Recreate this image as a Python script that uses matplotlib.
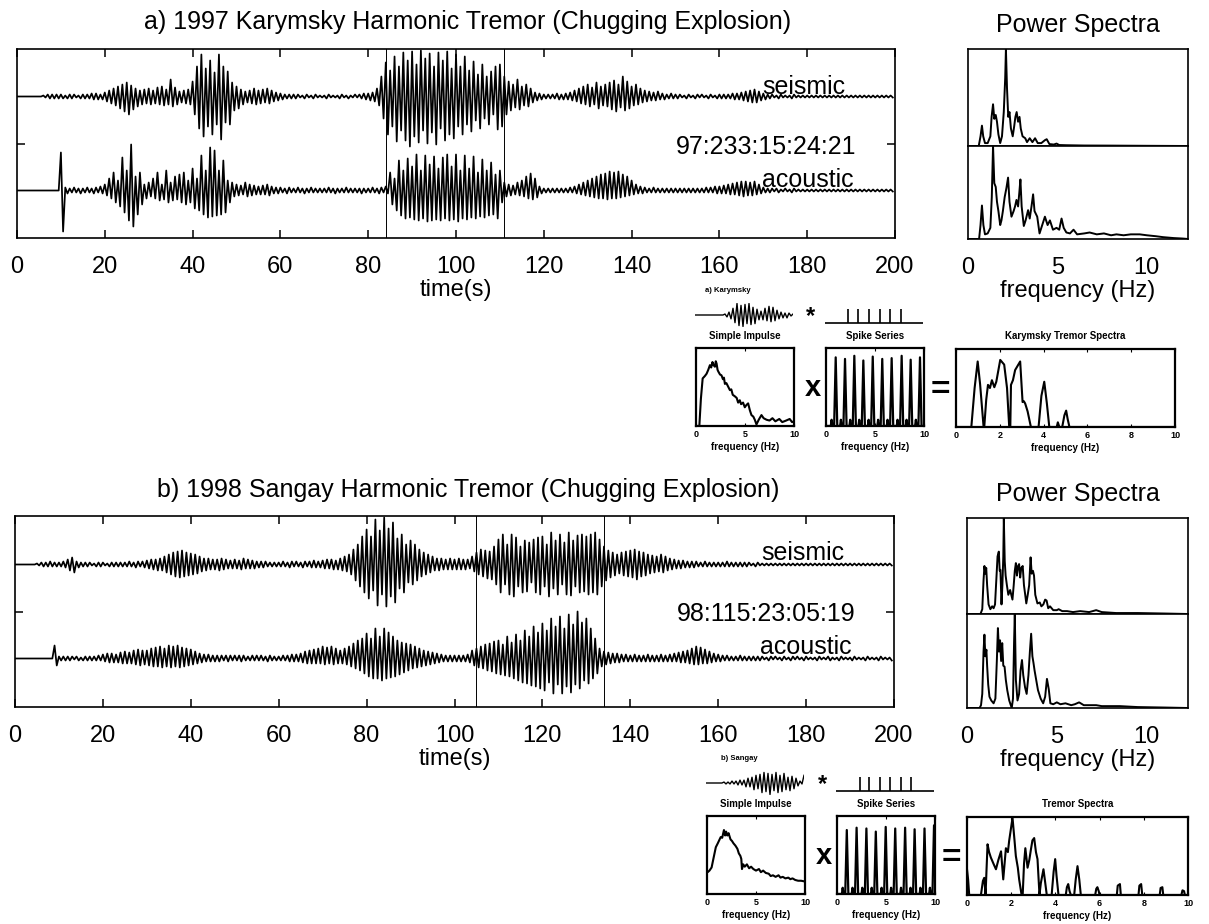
import matplotlib.pyplot as plt
import numpy as np

plt.rcParams['font.family'] = ['Liberation Sans', 'DejaVu Sans']

W, H = 1209, 924

# ---------------------------------------------------------------- data
time_ticks = [0, 20, 40, 60, 80, 100, 120, 140, 160, 180, 200]

# seismograms: positive / negative peak of each second (counts), t = 0..199 s
kar_seis_hi = [0, 0, 0, 0, 0, 0, 1, 2, 2, 2,  2, 1, 2, 2, 1, 2, 2, 3, 3, 2,
               4, 6, 8, 10, 12, 14, 11, 8, 6, 7,  8, 6, 9, 10, 7, 17, 9, 5, 6, 7,
               15, 30, 42, 28, 36, 24, 42, 30, 25, 14,  10, 7, 5, 6, 8, 6, 7, 8, 6, 4,
               3, 2, 2, 2, 2, 1, 2, 1, 2, 1,  1, 2, 1, 1, 2, 1, 1, 2, 2, 3,
               3, 4, 8, 20, 34, 26, 40, 30, 44, 36,  45, 32, 46, 38, 43, 30, 44, 36, 45, 28,
               42, 30, 40, 26, 35, 22, 32, 20, 25, 30,  32, 20, 15, 12, 17, 10, 12, 8, 4, 3,
               2, 2, 2, 3, 2, 3, 4, 6, 8, 10,  12, 9, 14, 10, 12, 14, 16, 12, 20, 15,
               10, 12, 8, 6, 5, 4, 5, 3, 2, 3,  2, 2, 1, 2, 1, 2, 2, 1, 2, 1,
               2, 2, 2, 3, 3, 4, 5, 6, 7, 5,  3, 2, 2, 1, 2, 1, 1, 2, 1, 1,
               1, 1, 1, 1, 1, 1, 1, 1, 1, 1,  1, 1, 1, 1, 1, 1, 1, 1, 1, 1]
kar_seis_lo = [0, 0, 0, 0, 0, 0, 1, 2, 2, 2,  2, 2, 2, 1, 2, 2, 2, 3, 3, 3,
               5, 7, 9, 12, 15, 18, 13, 10, 8, 7,  8, 7, 8, 9, 8, 10, 8, 6, 7, 8,
               18, 32, 40, 30, 38, 28, 43, 26, 28, 14,  12, 8, 6, 7, 8, 7, 6, 7, 5, 4,
               3, 2, 2, 2, 1, 2, 1, 2, 1, 1,  2, 1, 1, 2, 1, 2, 1, 1, 2, 3,
               4, 5, 9, 22, 38, 30, 45, 34, 44, 50,  40, 46, 34, 47, 36, 48, 32, 44, 38, 42,
               30, 38, 28, 35, 24, 32, 22, 28, 18, 33,  30, 18, 14, 11, 13, 9, 10, 6, 4, 3,
               2, 2, 2, 3, 3, 3, 4, 5, 7, 8,  10, 8, 12, 9, 10, 13, 15, 11, 14, 12,
               9, 8, 6, 5, 4, 4, 3, 3, 2, 2,  2, 1, 2, 1, 2, 1, 1, 2, 1, 2,
               2, 2, 2, 3, 3, 4, 5, 6, 6, 4,  3, 2, 1, 2, 1, 1, 2, 1, 1, 1,
               1, 1, 1, 1, 1, 1, 1, 1, 1, 1,  1, 1, 1, 1, 1, 1, 1, 1, 1, 1]
kar_acou_hi = [0, 0, 0, 0, 0, 0, 0, 0, 0, 0,  38, 3, 2, 3, 2, 2, 3, 2, 3, 4,
               6, 12, 18, 10, 33, 20, 46, 14, 18, 6,  8, 12, 18, 6, 20, 8, 14, 16, 18, 10,
               22, 12, 35, 20, 43, 40, 20, 30, 10, 8,  6, 5, 8, 6, 5, 4, 5, 6, 4, 3,
               3, 2, 3, 2, 3, 2, 2, 3, 2, 2,  2, 3, 2, 2, 2, 3, 2, 2, 2, 2,
               2, 3, 2, 3, 4, 18, 12, 30, 20, 32,  24, 36, 20, 35, 26, 34, 22, 33, 36, 24,
               36, 20, 35, 22, 34, 18, 31, 20, 28, 16,  20, 8, 6, 5, 8, 10, 14, 17, 12, 4,
               2, 2, 2, 2, 2, 2, 3, 4, 6, 8,  10, 12, 14, 16, 17, 19, 18, 19, 16, 14,
               10, 6, 4, 3, 2, 3, 2, 2, 2, 2,  2, 2, 2, 2, 2, 2, 2, 3, 3, 4,
               4, 5, 6, 7, 8, 9, 9, 8, 9, 6,  3, 2, 2, 2, 1, 2, 1, 2, 1, 1,
               1, 1, 1, 1, 1, 1, 1, 1, 1, 1,  1, 1, 1, 1, 1, 1, 1, 1, 1, 1]
kar_acou_lo = [0, 0, 0, 0, 0, 0, 0, 0, 0, 0,  41, 3, 2, 2, 3, 2, 2, 3, 2, 3,
               5, 8, 12, 16, 22, 30, 36, 24, 14, 8,  6, 8, 10, 9, 12, 10, 9, 12, 14, 12,
               18, 20, 24, 27, 26, 25, 24, 22, 12, 6,  5, 4, 6, 5, 4, 4, 4, 5, 3, 3,
               2, 3, 2, 2, 2, 3, 2, 2, 2, 2,  2, 2, 3, 2, 2, 2, 2, 2, 3, 2,
               2, 2, 3, 2, 3, 14, 20, 25, 28, 27,  29, 30, 28, 31, 30, 29, 30, 28, 30, 29,
               31, 28, 29, 27, 28, 26, 27, 25, 24, 28,  12, 6, 5, 4, 5, 6, 8, 9, 7, 3,
               2, 2, 2, 2, 2, 2, 2, 3, 4, 5,  6, 7, 8, 8, 9, 8, 8, 7, 6, 5,
               4, 3, 3, 2, 2, 2, 2, 2, 2, 2,  2, 2, 2, 2, 2, 2, 2, 2, 2, 3,
               3, 3, 4, 4, 5, 6, 5, 5, 4, 3,  2, 2, 1, 2, 1, 1, 2, 1, 1, 1,
               1, 1, 1, 1, 1, 1, 1, 1, 1, 1,  1, 1, 1, 1, 1, 1, 1, 1, 1, 1]

san_seis_hi = [0, 0, 0, 0, 0, 1, 2, 2, 3, 2,  2, 3, 5, 7, 3, 2, 2, 2, 1, 2,
               2, 1, 2, 2, 2, 2, 3, 2, 3, 3,  4, 5, 5, 6, 8, 10, 12, 13, 14, 12,
               11, 10, 8, 6, 6, 5, 5, 6, 5, 4,  5, 4, 6, 5, 4, 3, 3, 3, 2, 2,
               2, 3, 2, 3, 3, 2, 3, 3, 4, 3,  4, 5, 5, 4, 6, 8, 10, 15, 20, 28,
               35, 28, 45, 34, 47, 36, 42, 26, 30, 20,  24, 20, 15, 12, 10, 8, 6, 6, 5, 6,
               5, 6, 5, 5, 8, 12, 15, 14, 13, 18,  25, 30, 20, 30, 27, 18, 24, 22, 25, 27,
               28, 20, 32, 24, 30, 22, 32, 24, 29, 30,  28, 30, 32, 25, 18, 14, 12, 10, 12, 13,
               14, 15, 13, 12, 10, 9, 8, 10, 8, 6,  5, 4, 4, 3, 3, 3, 2, 3, 2, 2,
               2, 2, 3, 2, 2, 2, 2, 2, 1, 2,  1, 1, 1, 1, 1, 1, 1, 1, 1, 1,
               1, 1, 1, 1, 1, 1, 1, 1, 1, 1,  1, 1, 1, 1, 1, 1, 1, 1, 1, 1]
san_seis_lo = [0, 0, 0, 0, 0, 1, 2, 2, 2, 2,  2, 3, 6, 8, 3, 2, 2, 1, 2, 2,
               1, 2, 2, 2, 2, 2, 2, 3, 2, 3,  4, 5, 6, 6, 8, 10, 12, 13, 12, 11,
               10, 9, 7, 6, 5, 5, 6, 5, 4, 4,  4, 5, 4, 4, 4, 3, 3, 2, 2, 2,
               2, 2, 3, 2, 2, 3, 2, 3, 3, 3,  4, 4, 5, 5, 6, 7, 10, 16, 22, 28,
               34, 26, 41, 30, 42, 32, 38, 24, 28, 18,  20, 16, 12, 10, 8, 6, 6, 5, 5, 5,
               5, 5, 5, 4, 7, 10, 12, 14, 15, 20,  28, 20, 30, 32, 22, 28, 27, 18, 28, 30,
               22, 32, 24, 30, 20, 30, 31, 22, 28, 27,  30, 28, 30, 22, 16, 13, 11, 9, 11, 12,
               13, 15, 12, 11, 9, 8, 7, 8, 6, 5,  4, 4, 3, 3, 3, 2, 2, 2, 2, 2,
               2, 2, 2, 2, 2, 2, 2, 1, 2, 1,  1, 1, 1, 1, 1, 1, 1, 1, 1, 1,
               1, 1, 1, 1, 1, 1, 1, 1, 1, 1,  1, 1, 1, 1, 1, 1, 1, 1, 1, 1]
san_acou_hi = [0, 0, 0, 0, 0, 0, 0, 0, 0, 13,  2, 2, 2, 2, 2, 1, 2, 2, 2, 3,
               4, 5, 5, 4, 6, 7, 6, 8, 9, 8,  8, 10, 11, 12, 10, 13, 12, 13, 11, 10,
               9, 7, 5, 4, 4, 3, 3, 3, 3, 3,  3, 3, 3, 2, 3, 3, 3, 2, 3, 2,
               2, 3, 3, 4, 4, 5, 7, 8, 9, 10,  12, 11, 12, 10, 8, 10, 12, 15, 18, 20,
               25, 20, 30, 22, 30, 26, 22, 18, 16, 15,  14, 12, 10, 8, 7, 6, 5, 4, 3, 3,
               3, 3, 3, 4, 8, 10, 12, 14, 15, 17,  18, 14, 22, 16, 24, 18, 28, 22, 32, 26,
               35, 28, 40, 32, 42, 30, 44, 34, 47, 36,  40, 30, 20, 10, 7, 6, 5, 5, 4, 4,
               3, 4, 3, 3, 4, 3, 3, 4, 3, 4,  5, 6, 7, 8, 10, 12, 11, 9, 7, 5,
               4, 3, 3, 2, 2, 3, 2, 2, 2, 2,  2, 1, 2, 2, 1, 2, 1, 2, 2, 1,
               2, 1, 1, 2, 1, 2, 1, 1, 2, 1,  1, 2, 1, 1, 2, 1, 1, 2, 1, 1]
san_acou_lo = [0, 0, 0, 0, 0, 0, 0, 0, 0, 7,  2, 2, 2, 1, 2, 2, 2, 2, 2, 2,
               3, 4, 4, 4, 5, 5, 5, 6, 7, 6,  7, 8, 8, 9, 8, 9, 8, 9, 8, 7,
               6, 5, 4, 3, 3, 3, 3, 2, 3, 2,  2, 3, 2, 2, 2, 2, 2, 3, 2, 2,
               2, 2, 3, 3, 3, 4, 5, 5, 5, 5,  6, 5, 6, 5, 5, 6, 8, 10, 12, 15,
               18, 20, 20, 22, 20, 19, 18, 16, 14, 12,  10, 9, 8, 7, 6, 5, 4, 3, 3, 3,
               3, 3, 3, 4, 7, 9, 10, 12, 13, 15,  16, 17, 18, 20, 22, 24, 25, 27, 28, 30,
               32, 24, 35, 26, 35, 28, 34, 26, 30, 22,  25, 20, 15, 8, 6, 5, 4, 4, 3, 3,
               3, 3, 3, 3, 3, 3, 3, 3, 3, 3,  3, 4, 4, 5, 6, 6, 5, 5, 4, 3,
               3, 2, 2, 2, 2, 2, 2, 2, 2, 2,  1, 2, 1, 1, 2, 1, 2, 1, 1, 2,
               1, 1, 2, 1, 1, 2, 1, 2, 1, 1,  2, 1, 1, 2, 1, 1, 2, 1, 1, 2]

kar_marks = [84, 111]
san_marks = [105, 134]

# power spectra (frequency Hz, relative power)
kar_ps_seis = [(0, 0), (0.6, 0), (0.7, 0.1), (0.78, 0.21), (0.85, 0.1), (0.95, 0.03), (1.1, 0.03),
               (1.25, 0.1), (1.32, 0.3), (1.4, 0.43), (1.47, 0.28), (1.55, 0.32), (1.62, 0.25),
               (1.7, 0.12), (1.8, 0.03), (1.9, 0.1), (2.0, 0.35), (2.08, 0.7), (2.12, 1.0),
               (2.18, 0.6), (2.25, 0.3), (2.32, 0.35), (2.4, 0.18), (2.5, 0.1), (2.58, 0.2),
               (2.65, 0.3), (2.72, 0.35), (2.8, 0.25), (2.88, 0.3), (2.95, 0.18), (3.05, 0.1),
               (3.2, 0.08), (3.3, 0.04), (3.45, 0.08), (3.6, 0.04), (3.75, 0.08), (3.9, 0.03),
               (4.1, 0.03), (4.3, 0.06), (4.4, 0.07), (4.55, 0.02), (4.8, 0.015), (4.95, 0.025),
               (5.1, 0.01), (5.5, 0.008), (6.5, 0.005), (8, 0.004), (10, 0.002), (12.3, 0)]
kar_ps_acou = [(0, 0), (0.62, 0), (0.7, 0.15), (0.78, 0.36), (0.86, 0.15), (0.95, 0.05), (1.1, 0.06),
               (1.25, 0.12), (1.33, 0.45), (1.4, 1.0), (1.47, 0.6), (1.55, 0.56), (1.62, 0.4),
               (1.7, 0.3), (1.8, 0.15), (1.87, 0.2), (1.95, 0.3), (2.05, 0.45), (2.15, 0.55),
               (2.24, 0.66), (2.32, 0.4), (2.43, 0.24), (2.55, 0.3), (2.63, 0.35), (2.71, 0.42),
               (2.8, 0.35), (2.87, 0.5), (2.93, 0.64), (3.0, 0.35), (3.12, 0.14), (3.22, 0.2),
               (3.36, 0.31), (3.45, 0.22), (3.55, 0.35), (3.64, 0.48), (3.72, 0.3), (3.87, 0.24),
               (4.0, 0.06), (4.15, 0.15), (4.3, 0.24), (4.45, 0.15), (4.58, 0.2), (4.75, 0.1),
               (4.95, 0.12), (5.1, 0.1), (5.23, 0.22), (5.35, 0.12), (5.5, 0.07), (5.7, 0.06),
               (5.9, 0.1), (6.1, 0.05), (6.5, 0.06), (6.8, 0.07), (7.2, 0.05), (7.6, 0.06),
               (8.0, 0.04), (8.3, 0.05), (8.7, 0.04), (9.1, 0.05), (9.6, 0.05), (10.0, 0.04),
               (10.5, 0.03), (10.9, 0.02), (11.5, 0.01), (12.0, 0.005), (12.3, 0)]
san_ps_seis = [(0, 0), (0.75, 0), (0.85, 0.05), (0.92, 0.35), (0.97, 0.5), (1.02, 0.42), (1.07, 0.48),
               (1.12, 0.3), (1.2, 0.1), (1.3, 0.05), (1.4, 0.08), (1.48, 0.06), (1.56, 0.1),
               (1.63, 0.35), (1.7, 0.6), (1.77, 0.65), (1.82, 0.45), (1.86, 0.46), (1.92, 0.1),
               (1.97, 0.3), (2.02, 0.6), (2.05, 1.0), (2.1, 0.55), (2.15, 0.4), (2.22, 0.3),
               (2.3, 0.2), (2.4, 0.25), (2.53, 0.15), (2.6, 0.3), (2.66, 0.45), (2.72, 0.53),
               (2.78, 0.4), (2.84, 0.5), (2.9, 0.52), (2.96, 0.38), (3.02, 0.48), (3.1, 0.5),
               (3.17, 0.3), (3.24, 0.2), (3.3, 0.11), (3.38, 0.2), (3.46, 0.3), (3.54, 0.59),
               (3.6, 0.42), (3.67, 0.45), (3.73, 0.4), (3.8, 0.2), (3.92, 0.11), (4.05, 0.12),
               (4.14, 0.08), (4.25, 0.1), (4.35, 0.15), (4.43, 0.14), (4.52, 0.06), (4.62, 0.08),
               (4.8, 0.04), (5.0, 0.04), (5.1, 0.05), (5.3, 0.03), (5.57, 0.03), (5.9, 0.02),
               (6.3, 0.03), (6.8, 0.02), (7.19, 0.04), (7.5, 0.02), (8.3, 0.01), (9.5, 0.01),
               (11, 0.005), (12.3, 0)]
san_ps_acou = [(0, 0), (0.7, 0), (0.78, 0.03), (0.85, 0.15), (0.92, 0.6), (0.97, 0.78), (1.02, 0.55),
               (1.08, 0.62), (1.12, 0.45), (1.18, 0.25), (1.25, 0.12), (1.35, 0.08), (1.48, 0.05),
               (1.58, 0.1), (1.66, 0.5), (1.72, 0.85), (1.78, 0.6), (1.84, 0.72), (1.9, 0.5),
               (1.96, 0.69), (2.02, 0.45), (2.09, 0.44), (2.16, 0.3), (2.24, 0.19), (2.35, 0.08),
               (2.49, 0.0), (2.56, 0.1), (2.62, 0.7), (2.66, 1.0), (2.72, 0.3), (2.81, 0.08),
               (2.9, 0.15), (2.98, 0.4), (3.06, 0.51), (3.13, 0.35), (3.23, 0.22), (3.32, 0.15),
               (3.42, 0.35), (3.5, 0.6), (3.57, 0.79), (3.64, 0.55), (3.7, 0.48), (3.76, 0.4),
               (3.85, 0.3), (3.95, 0.19), (4.1, 0.1), (4.24, 0.05), (4.35, 0.12), (4.45, 0.31),
               (4.55, 0.2), (4.64, 0.05), (4.8, 0.04), (5.0, 0.06), (5.2, 0.04), (5.48, 0.05),
               (5.8, 0.03), (6.0, 0.04), (6.24, 0.06), (6.5, 0.03), (7.19, 0.03), (7.5, 0.02),
               (8.5, 0.02), (9.5, 0.01), (11, 0.005), (12.3, 0)]

# model insets: impulse waveform samples, spike times (s), spectra
kar_impulse = [0, 0, 0, 0, 0, 0, 0, 0, 0, 0, 0, 0, 0, 0, 0,
               1, -2, 3, -4, 7, -8, 12, -11, 10, -12, 11, -9, 12, -10, 8, -9, 6, -5,
               4, -5, 7, -6, 9, -7, 8, -6, 5, -4, 3, -3, 2, -3, 2, -1, 1]
san_impulse = [0, 0, 0, 0, 0, 0, 0, 0, 0, 1, -1, 1, -1, 2, -1, 2, -2, 3, -2, 3,
               -4, 5, -4, 6, -7, 8, -6, 9, -10, 11, -9, 10, -12, 9, -8, 11, -10, 8, -9, 10,
               -7, 6, -8, 7, -6, 5, -3, 2, -1, 8]
kar_spike_times = [2.37, 3.4, 4.54, 5.57, 6.6, 7.73]
san_spike_times = [2.45, 3.37, 4.49, 5.51, 6.63, 7.65]

kar_imp_spec = [(0, 0), (0.34, 0), (0.5, 0.35), (0.68, 0.61), (0.9, 0.64), (1.08, 0.67), (1.25, 0.72),
                (1.42, 0.78), (1.55, 0.75), (1.68, 0.82), (1.8, 0.78), (1.93, 0.76), (2.02, 0.83),
                (2.1, 0.8), (2.2, 0.72), (2.27, 0.7), (2.45, 0.66), (2.6, 0.65), (2.75, 0.6),
                (2.85, 0.62), (2.95, 0.54), (3.1, 0.55), (3.3, 0.5), (3.46, 0.46), (3.6, 0.47),
                (3.75, 0.4), (3.97, 0.38), (4.15, 0.36), (4.3, 0.3), (4.47, 0.33), (4.6, 0.28),
                (4.8, 0.3), (4.98, 0.24), (5.15, 0.27), (5.32, 0.29), (5.5, 0.2), (5.66, 0.14),
                (5.85, 0.12), (6.0, 0.08), (6.17, 0.02), (6.4, 0.08), (6.68, 0.14), (6.9, 0.1),
                (7.2, 0.08), (7.5, 0.07), (7.8, 0.1), (8.1, 0.06), (8.5, 0.09), (8.8, 0.05),
                (9.2, 0.07), (9.56, 0.09), (9.8, 0.05), (10, 0.06)]
san_imp_spec = [(0, 0.28), (0.07, 0.28), (0.25, 0.3), (0.47, 0.34), (0.65, 0.45), (0.9, 0.6), (1.1, 0.65),
                (1.4, 0.73), (1.55, 0.72), (1.73, 0.82), (1.85, 0.75), (1.95, 0.8), (2.07, 0.75),
                (2.2, 0.78), (2.4, 0.7), (2.55, 0.68), (2.7, 0.65), (2.9, 0.62), (3.1, 0.58),
                (3.25, 0.52), (3.4, 0.49), (3.5, 0.45), (3.57, 0.32), (3.7, 0.38), (3.85, 0.35),
                (4.07, 0.38), (4.3, 0.33), (4.5, 0.35), (4.73, 0.32), (5.0, 0.3), (5.3, 0.32),
                (5.5, 0.28), (5.73, 0.3), (6.0, 0.27), (6.3, 0.26), (6.5, 0.23), (6.73, 0.24),
                (7.0, 0.22), (7.3, 0.24), (7.5, 0.21), (7.73, 0.22), (8.0, 0.2), (8.3, 0.21),
                (8.5, 0.19), (8.73, 0.2), (9.0, 0.18), (9.3, 0.17), (9.6, 0.17), (10, 0.16)]

kar_spk_freq = [0.99, 1.94, 2.89, 3.81, 4.77, 5.74, 6.70, 7.72, 8.64, 9.59]
kar_spk_pow = [0.88, 0.86, 0.9, 0.84, 0.89, 0.86, 0.87, 0.9, 0.85, 0.88]
san_spk_freq = [1.0, 2.0, 3.0, 3.96, 4.97, 5.94, 6.95, 7.92, 8.93, 9.9]
san_spk_pow = [0.82, 0.85, 0.84, 0.8, 0.86, 0.84, 0.85, 0.83, 0.84, 0.88]
spk_floor = 0.08

kar_trem_spec = [(0, 0), (0.7, 0), (0.85, 0.5), (0.99, 0.84), (1.1, 0.55), (1.26, 0), (1.29, 0),
                 (1.38, 0.35), (1.46, 0.54), (1.55, 0.5), (1.64, 0.6), (1.75, 0.51), (1.84, 0.58),
                 (2.02, 0.86), (2.2, 0.8), (2.33, 0.5), (2.43, 0), (2.48, 0), (2.51, 0.54),
                 (2.6, 0.6), (2.7, 0.73), (2.93, 0.84), (3.04, 0.32), (3.1, 0.33), (3.16, 0.3),
                 (3.27, 0.2), (3.42, 0), (3.77, 0), (3.9, 0.4), (4.03, 0.58), (4.15, 0.3),
                 (4.26, 0), (4.6, 0), (4.65, 0.06), (4.72, 0.0), (4.85, 0), (4.95, 0.15),
                 (5.03, 0.21), (5.1, 0.1), (5.18, 0), (10, 0)]
san_trem_spec = [(0, 0.33), (0.05, 0.2), (0.1, 0), (0.63, 0), (0.72, 0.18), (0.78, 0.22), (0.84, 0),
                 (0.88, 0.3), (0.93, 0.65), (1.0, 0.55), (1.08, 0.48), (1.2, 0.4), (1.31, 0.33),
                 (1.42, 0.45), (1.54, 0.56), (1.64, 0.2), (1.7, 0.4), (1.76, 0.6), (1.85, 0.55),
                 (1.91, 0.7), (2.06, 0.99), (2.15, 0.7), (2.21, 0.5), (2.3, 0.35), (2.36, 0.2),
                 (2.47, 0), (2.52, 0), (2.58, 0.4), (2.64, 0.6), (2.74, 0.35), (2.82, 0.45),
                 (2.89, 0.58), (2.96, 0.7), (3.04, 0.73), (3.12, 0.55), (3.19, 0.46), (3.28, 0),
                 (3.34, 0.15), (3.46, 0.33), (3.52, 0.2), (3.61, 0), (3.83, 0), (3.92, 0.3),
                 (3.99, 0.46), (4.05, 0.25), (4.14, 0), (4.47, 0), (4.52, 0.1), (4.58, 0.14),
                 (4.64, 0.05), (4.7, 0), (4.85, 0), (4.92, 0.2), (5.0, 0.37), (5.08, 0.2),
                 (5.15, 0), (5.8, 0), (5.85, 0.08), (5.9, 0.1), (5.96, 0.05), (6.0, 0),
                 (6.78, 0), (6.82, 0.12), (6.92, 0.14), (6.96, 0.0), (7.76, 0), (7.8, 0.12),
                 (7.88, 0.14), (7.93, 0), (8.72, 0), (8.76, 0.09), (8.84, 0.1), (8.88, 0),
                 (9.7, 0), (9.75, 0.06), (9.82, 0.05), (9.86, 0), (10, 0)]

# ---------------------------------------------------------------- helpers
fig = plt.figure(figsize=(W / 100, H / 100), dpi=100)
SEP = 47


def box(l, t, r, b):
    return [l / W, 1 - b / H, (r - l) / W, (b - t) / H]


def put(x, y, s, **kw):
    kw.setdefault('ha', 'center')
    kw.setdefault('va', 'baseline')
    fig.text(x / W, 1 - y / H, s, **kw)


def trace(ax, hi, lo, base):
    t = np.arange(len(hi))
    tt = np.column_stack([t, t + 0.5]).ravel()
    yy = np.column_stack([np.array(hi), -np.array(lo)]).ravel() + base
    ax.plot(tt, yy, color='k', lw=1.25)


def seismogram(rect, s_hi, s_lo, a_hi, a_lo, marks, stamp, dy):
    ax = fig.add_axes(box(*rect))
    half = (rect[3] - rect[1]) / 2
    for m in marks:
        ax.axvline(m, color='k', lw=0.7)
    trace(ax, s_hi, s_lo, SEP)
    trace(ax, a_hi, a_lo, -SEP)
    ax.set_xlim(0, 200)
    ax.set_ylim(-half, half)
    ax.set_xticks(time_ticks)
    ax.set_yticks([0])
    ax.set_yticklabels([])
    ax.tick_params(direction='in', top=True, right=True, length=6, width=1.1,
                   labelsize=17, pad=13)
    for s in ax.spines.values():
        s.set_linewidth(1.2)
    ax.text(169.8, 50 + dy, 'seismic', fontsize=18)
    ax.text(169.6, -43.5 + dy, 'acoustic', fontsize=18)
    ax.text(191.3, -10.5 + dy, stamp, fontsize=18, ha='right')
    put((rect[0] + rect[2]) / 2, rect[3] + 58, 'time(s)', fontsize=17)
    return ax


def power_spectra(top, bottom, rect_top, rect_bot):
    for pairs, rect in ((top, rect_top), (bottom, rect_bot)):
        ax = fig.add_axes(box(*rect))
        f, p = zip(*pairs)
        ax.plot(f, p, color='k', lw=1.4)
        ax.set_xlim(0, 12.3)
        ax.set_ylim(0, 1.0)
        ax.set_yticks([])
        ax.tick_params(length=0, labelsize=17, pad=13)
        for s in ax.spines.values():
            s.set_linewidth(1.2)
        ax.set_xticks([0, 5, 10] if pairs is bottom else [])
    put((rect_bot[0] + rect_bot[2]) / 2, rect_bot[3] + 58, 'frequency (Hz)', fontsize=17)
    put((rect_top[0] + rect_top[2]) / 2, rect_top[1] - 17, 'Power Spectra', fontsize=18)


def small_axes(rect, ticks):
    ax = fig.add_axes(box(*rect))
    ax.set_xlim(0, 10)
    ax.set_ylim(0, 1.0)
    ax.set_yticks([])
    ax.set_xticks(ticks)
    ax.set_xticklabels([str(v) for v in ticks], fontsize=6.5, fontweight='bold')
    ax.tick_params(direction='in', top=True, length=2, width=0.8, pad=3)
    for s in ax.spines.values():
        s.set_linewidth(1.6)
    put((rect[0] + rect[2]) / 2, rect[3] + 24, 'frequency (Hz)', fontsize=7, fontweight='bold')
    return ax


def model_inset(x0, y0, name, imp_wave, spk_times, imp_spec, spk_f, spk_p, trem_spec, trem_title, trem_w):
    # small waveforms above the spectra
    ax = fig.add_axes(box(x0, y0 + 3, x0 + 98, y0 + 27))
    ax.plot(np.arange(len(imp_wave)), imp_wave, color='k', lw=1.0)
    ax.set_xlim(0, len(imp_wave) - 1)
    ax.set_ylim(-12.5, 12.5)
    ax.axis('off')
    ax = fig.add_axes(box(x0 + 130, y0 + 7, x0 + 228, y0 + 25))
    ax.plot([0, 10], [2, 2], color='k', lw=1.2)
    ax.vlines(spk_times, 2, 16, color='k', lw=1.2)
    ax.set_xlim(0, 10)
    ax.set_ylim(0, 18)
    ax.axis('off')
    put(x0 + 116, y0 + 17, '*', fontsize=17, fontweight='bold', va='center')
    put(x0 + 33, y0 - 8, name, fontsize=5.5, fontweight='bold')

    put(x0 + 50, y0 + 39, 'Simple Impulse', fontsize=7, fontweight='bold')
    put(x0 + 180, y0 + 39, 'Spike Series', fontsize=7, fontweight='bold')
    put(x0 + 261 + trem_w / 2, y0 + 39, trem_title, fontsize=7, fontweight='bold')

    ax = small_axes((x0 + 1, y0 + 48, x0 + 99, y0 + 126), [0, 5, 10])
    f, p = zip(*imp_spec)
    ax.plot(f, p, color='k', lw=1.5)

    ax = small_axes((x0 + 131, y0 + 48, x0 + 229, y0 + 126), [0, 5, 10])
    ff, pp = [0.0], [0.0]
    for c, h in zip(spk_f, spk_p):
        ff += [c - 0.5, c - 0.42, c - 0.34, c - 0.16, c, c + 0.16]
        pp += [0, spk_floor, 0, 0, h, 0]
    ff.append(10)
    pp.append(0)
    ax.plot(ff, pp, color='k', lw=1.6)

    ax = small_axes((x0 + 261, y0 + 49, x0 + 261 + trem_w, y0 + 127), [0, 2, 4, 6, 8, 10])
    f, p = zip(*trem_spec)
    ax.plot(f, p, color='k', lw=1.5)

    put(x0 + 118, y0 + 96, 'x', fontsize=21, fontweight='bold')
    put(x0 + 245, y0 + 99, '=', fontsize=24, fontweight='bold')


# ---------------------------------------------------------------- figure
put(468, 29, 'a) 1997 Karymsky Harmonic Tremor (Chugging Explosion)', fontsize=18)
put(468, 497, 'b) 1998 Sangay Harmonic Tremor (Chugging Explosion)', fontsize=18)

seismogram((17, 49, 895, 238), kar_seis_hi, kar_seis_lo, kar_acou_hi, kar_acou_lo,
           kar_marks, '97:233:15:24:21', 0)
seismogram((15, 516, 894, 707), san_seis_hi, san_seis_lo, san_acou_hi, san_acou_lo,
           san_marks, '98:115:23:05:19', 1)

power_spectra(kar_ps_seis, kar_ps_acou, (968, 49, 1188, 146), (968, 146, 1188, 239))
power_spectra(san_ps_seis, san_ps_acou, (967, 518, 1188, 614), (967, 614, 1188, 708))

model_inset(695, 300, 'a) Karymsky', kar_impulse, kar_spike_times, kar_imp_spec,
            kar_spk_freq, kar_spk_pow, kar_trem_spec, 'Karymsky Tremor Spectra', 219)
model_inset(706, 768, 'b) Sangay', san_impulse, san_spike_times, san_imp_spec,
            san_spk_freq, san_spk_pow, san_trem_spec, 'Tremor Spectra', 221)

fig.savefig('out.png', dpi=100)
